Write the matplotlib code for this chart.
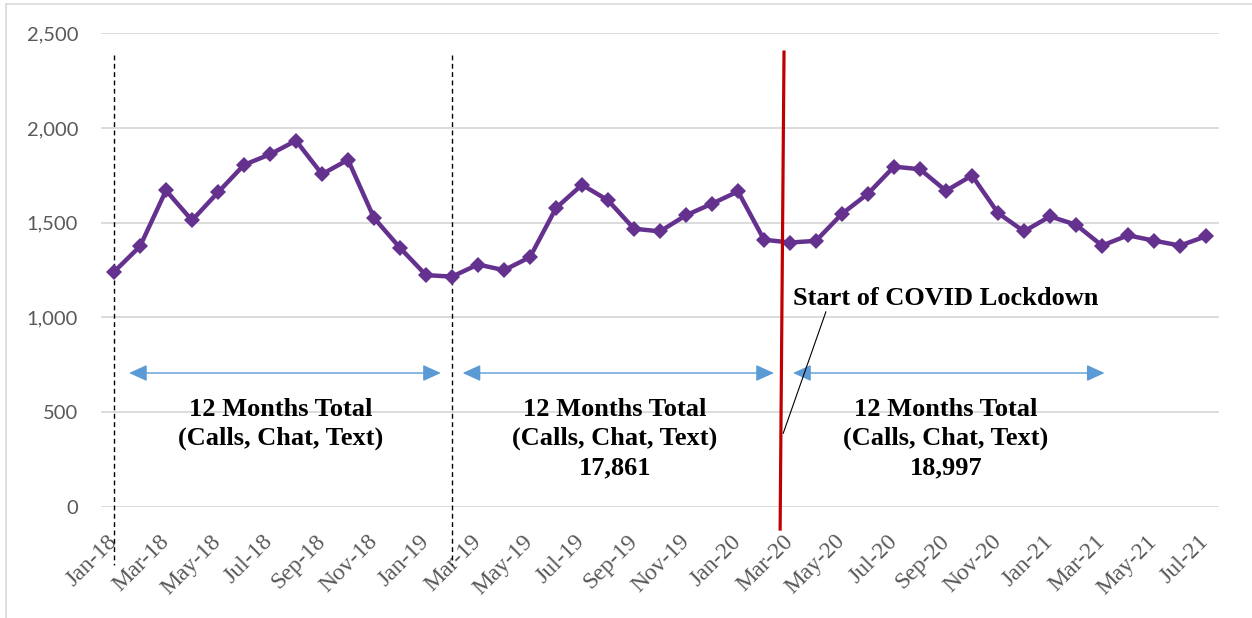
import pandas as pd
import matplotlib.pyplot as plt
from matplotlib.lines import Line2D

# monthly contacts (calls, chat, text), Jan-18 .. Jul-21
months = pd.date_range("2018-01-01", "2021-07-01", freq="MS").strftime("%b-%y").tolist()
contacts = [1240, 1375, 1670, 1512, 1660, 1805, 1861, 1933, 1756, 1832, 1525, 1367,
            1223, 1215, 1279, 1249, 1318, 1577, 1700, 1618, 1468, 1454, 1539, 1600,
            1665, 1410, 1395, 1404, 1547, 1653, 1796, 1782, 1668, 1749, 1551, 1454,
            1533, 1489, 1379, 1433, 1405, 1379, 1428]
yticks = [0, 500, 1000, 1500, 2000, 2500]
period_labels = ["12 Months Total\n(Calls, Chat, Text)",
                 "12 Months Total\n(Calls, Chat, Text)\n17,861",
                 "12 Months Total\n(Calls, Chat, Text)\n18,997"]

W, H = 1252, 618
fig = plt.figure(figsize=(W / 100, H / 100), dpi=100)
ax = fig.add_axes([101 / W, 1 - 506.7 / H, 1118 / W, 473.4 / H])

x = list(range(len(contacts)))
ax.plot(x, contacts, color="#65318E", lw=3.2, marker="D", markersize=8.5,
        markeredgewidth=0, zorder=5)

ax.set_xlim(-0.5, len(contacts) - 0.5)
ax.set_ylim(0, 2500)
ax.set_yticks(yticks)
ax.set_yticklabels([f"{v:,}" for v in yticks], fontfamily="Lato", fontsize=14.5,
                   color="#595959")
ax.set_xticks(x[::2])
ax.set_xticklabels(months[::2], rotation=45, ha="right", va="center",
                   rotation_mode="anchor", fontfamily="Liberation Serif",
                   fontsize=17, color="#595959")
ax.tick_params(axis="x", length=0, pad=22.7)
ax.tick_params(axis="y", length=0, pad=16.5)

ax.grid(axis="y", color="#D9D9D9", lw=1.3)
ax.set_axisbelow(True)
for s in ax.spines.values():
    s.set_visible(False)

# period separators
for xv in (0, 13):
    ax.plot([xv, xv], [2385, -308], color="black", lw=1, dashes=(3.5, 2.5),
            clip_on=False, zorder=3)

# lockdown line
ax.plot([25.77, 25.62], [2401, -118], color="#C00000", lw=2.3, clip_on=False, zorder=6)
ax.plot([27.38, 25.74], [1029, 388], color="black", lw=0.8, zorder=6)
ax.text(32.0, 1097, "Start of COVID Lockdown", ha="center", va="center",
        fontfamily="Liberation Serif", fontweight="bold", fontsize=19)

# 12 month spans
for x0, x1 in [(0.58, 12.57), (13.41, 25.38), (26.12, 38.1)]:
    ax.annotate("", xy=(x1, 706), xytext=(x0, 706),
                arrowprops=dict(arrowstyle="<|-|>,head_length=0.55,head_width=0.25",
                                color="#5B9BD5", lw=1, mutation_scale=20,
                                shrinkA=0, shrinkB=0))

for xc, txt in zip([6.42, 19.27, 32.0], period_labels):
    ax.text(xc, 572, txt, ha="center", va="top", fontfamily="Liberation Serif",
            fontweight="bold", fontsize=19, linespacing=1.31)

# light frame like the spreadsheet chart box
fig.add_artist(Line2D([6 / W, 1], [1 - 4 / H, 1 - 4 / H], transform=fig.transFigure,
                      color="#D9D9D9", lw=1.2))
fig.add_artist(Line2D([6 / W, 6 / W], [0, 1 - 4 / H], transform=fig.transFigure,
                      color="#D9D9D9", lw=1.2))

fig.savefig("out.png", dpi=100)
